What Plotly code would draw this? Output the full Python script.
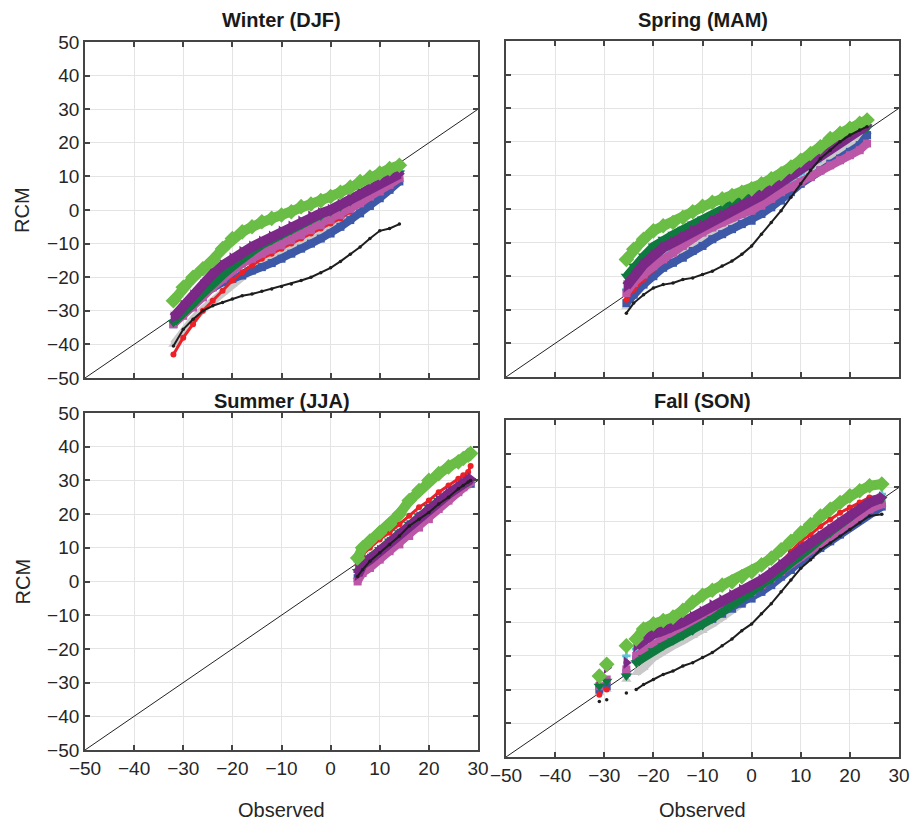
import plotly.graph_objects as go

# ------------------------------------------------------------------ data
# Winter (DJF)
DJF_X = [-32, -30, -28, -26, -24, -22, -20, -18, -16, -14, -12, -10, -8, -6, -4, -2, 0, 2, 4, 6, 8, 10, 12, 14]
DJF_GREEN = [-27, -23, -20, -17.5, -15, -11.5, -8.5, -6.5, -5, -3.5, -2.5, -1.5, -0.5, 1, 1.8, 2.8, 4, 5.3, 6.8, 8.5, 9.8, 11, 12.3, 13.3]
DJF_PURPLE = [-32, -28.5, -25.5, -22.5, -19, -16.5, -14.5, -12.5, -11, -9.5, -8, -6.5, -5, -3.5, -2, -1, 0, 1.5, 3, 4.8, 6.5, 8, 9.5, 10.8]
DJF_DKGREEN = [-33.5, -31, -28, -25, -22, -19.5, -17, -14.5, -12.5, -10.5, -9, -7.5, -6, -4.5, -3, -1.8, -0.5, 1, 2.5, 4.3, 6, 7.8, 9.5, 11]
DJF_CYAN = [-33, -30, -27, -24, -21, -18.5, -16, -14, -12, -10.3, -8.8, -7.2, -5.8, -4.3, -2.8, -1.6, -0.4, 1, 2.6, 4.5, 6.3, 8.2, 10, 11.5]
DJF_MAGENTA = [-34, -31.5, -29, -26, -23, -20.5, -18, -16, -14.5, -13, -11.8, -10.5, -9, -7.5, -6, -4.5, -3, -1.5, 0.3, 2, 4, 5.5, 7.5, 9.5]
DJF_BLUE = [-34, -30.5, -27.5, -25, -23, -21.5, -20.5, -19.5, -18, -17, -15.8, -14.5, -13, -11.5, -10, -8.5, -7, -5, -3, -1, 1.2, 3.5, 6, 8.5]
DJF_RED = [-43, -38, -34, -30, -27, -24, -21, -18.5, -16.5, -14.5, -13, -11.5, -10, -8.5, -7, -5.5, -4, -2.5, -0.5, 1.5, 3.5, 5.5, 7.5, 9.5]
DJF_GRAY = [-40, -36, -32.5, -29.5, -27, -24.5, -22, -19.5, -17.5, -15.5, -14, -12.5, -11, -9.5, -8, -6.5, -5, -3.5, -1.5, 0.5, 2.5, 5, 7.5, 9]
DJF_BLACK = [-40.5, -35.5, -32.5, -30, -28.5, -27.5, -26.5, -25.5, -25, -24.2, -23.5, -22.8, -22, -21, -20, -18.7, -17.2, -15.3, -13.2, -11, -8.5, -6.2, -5.5, -4.2]

# Spring (MAM)
MAM_X = [-25.5, -24, -22, -20, -18, -16, -14, -12, -10, -8, -6, -4, -2, 0, 2, 4, 6, 8, 10, 12, 14, 16, 18, 20, 22, 23.5]
MAM_GREEN = [-15, -12, -9, -6.5, -5, -4, -2.5, -0.8, 0.8, 2, 3, 4, 5, 6, 7.5, 9, 10.5, 12.5, 14.5, 16.5, 18.5, 21, 22.5, 24, 25.5, 26.5]
MAM_DKGREEN = [-20, -17, -14, -11, -9, -7.5, -6, -4.5, -3, -2, -0.5, 1, 2.5, 4, 5.5, 7, 9, 11, 12.5, 14.5, 17, 19, 21, 22.5, 23.5, 24]
MAM_PURPLE = [-23, -20, -16.5, -14, -11.5, -10, -8.5, -6.5, -5, -3.5, -2, -0.5, 1, 2.5, 4, 6, 8, 10, 11.5, 13.5, 15.5, 18, 20, 22, 24, 25]
MAM_CYAN = [-24, -21.5, -18.5, -16, -13.5, -11.5, -10, -8.5, -6.5, -5, -3.5, -2, -0.5, 1, 2.5, 4.5, 6.5, 8.5, 10.5, 12.5, 15, 17.5, 20, 22, 23.5, 24.5]
MAM_MAGENTA = [-25, -22, -19.5, -17, -15, -13, -11, -8.5, -7, -5.5, -4, -2.5, -1.5, -0.5, 1, 3, 5, 6.5, 8, 9.5, 11.5, 13, 14.5, 16, 17.5, 19.5]
MAM_RED = [-27, -24, -21, -18, -15, -12.5, -10.5, -8.5, -7, -5.5, -3.5, -2, -0.5, 1, 3, 5, 7, 9.5, 12, 14.5, 17.5, 20, 22, 23.5, 24.5, 25]
MAM_BLUE = [-28, -25.5, -22.5, -20, -17.5, -16, -14.5, -12.5, -11, -9, -7.5, -6, -4.5, -3.5, -1.5, 0.5, 2.5, 5, 7.5, 9.5, 11.5, 13.5, 15, 17, 19, 22]
MAM_GRAY = [-29, -25, -21.5, -18.5, -16, -14, -12.5, -11, -9.5, -8, -6.5, -5, -3.5, -2, 0, 2, 4, 6, 8.5, 11, 13, 15, 17, 19, 21, 23]
MAM_BLACK = [-31, -28, -25.5, -23.5, -22.5, -22, -21, -20.5, -19.5, -18.5, -17, -15.5, -13.5, -11, -7.5, -4, -0.5, 3.5, 7.5, 11.5, 15, 17.5, 20, 22, 23.5, 24.5]

# Summer (JJA)
JJA_X = [5.5, 6.5, 8, 10, 12, 14, 16, 18, 20, 22, 24, 26, 27, 28, 28.5]
JJA_GREEN = [7, 10, 12, 14.5, 17, 20, 24, 27, 30, 32, 34, 35.5, 36.5, 37.5, 38]
JJA_RED = [5, 8, 10, 12.5, 14.5, 17, 19.5, 22, 24, 26.5, 28.5, 30.5, 31.5, 32.5, 34.3]
JJA_PURPLE = [2, 5, 6.5, 9, 11.5, 14, 16.5, 19, 21.5, 24, 26, 28, 29, 30, 30.5]
JJA_DKGREEN = [3, 5.5, 7, 9.5, 12, 14.5, 17, 19.5, 22, 24, 26, 28, 29, 29.5, 30]
JJA_CYAN = [6, 6.5, 7.5, 9.5, 12, 14.5, 17, 19.5, 21.5, 23.5, 25.5, 27.5, 28.5, 29.5, 30]
JJA_MAGENTA = [0, 2.5, 4, 6.5, 9, 11, 13.5, 16, 18.5, 21.5, 24, 26.5, 28, 29, 29.5]
JJA_BLUE = [1, 3, 5, 7.5, 10, 12.5, 15, 17.5, 20, 22.5, 25, 27, 28, 29, 29]
JJA_GRAY = [1.5, 3.5, 5, 7.5, 10, 12.5, 15, 17.5, 20, 22.5, 25, 27, 28, 28.5, 28.5]
JJA_BLACK = [1.5, 3.5, 6, 8.5, 11, 13.5, 16.5, 18.5, 20.5, 23, 25, 27.5, 28.5, 29.5, 30]

# Fall (SON)
SON_X = [-31, -29.5, -25.5, -23.5, -22, -20, -18, -16, -14, -12, -10, -8, -6, -4, -2, 0, 2, 4, 6, 8, 10, 12, 14, 16, 18, 20, 22, 24, 26.5]
SON_GREEN = [-26, -22.5, -17, -15, -12, -10.5, -9.5, -8.5, -6.5, -4, -2, -0.5, 1, 2, 3.5, 5, 7, 9, 11.5, 14, 16.5, 19, 21.5, 23.5, 25.5, 27.5, 29, 30.5, 31]
SON_PURPLE = [-26.5, -23.5, -22, -17, -15.5, -13.5, -12.5, -11.5, -10, -8.5, -7, -5, -3.5, -2, -0.5, 0.5, 2.5, 4.5, 7, 9.5, 11.5, 13.5, 15.5, 17.5, 19.5, 21.5, 23.5, 25.5, 27]
SON_RED = [-31.5, -30, -22, -19, -18, -16.5, -14.5, -13, -11, -9, -7.5, -6, -4.5, -3, -1.5, 0, 2, 4.5, 7.5, 11, 14, 16, 18.5, 20.5, 22.5, 24, 25.5, 27, 27.5]
SON_DKGREEN = [-29, -27.5, -26, -22, -20.5, -18.5, -17, -15.5, -14, -12.5, -11, -9, -7, -5, -3, -1.5, 0.5, 2.5, 5, 7.5, 9.5, 12, 14.5, 16.5, 19, 21, 23.5, 25.5, 26.5]
SON_CYAN = [-25.5, -22, -20, -18, -16.5, -14.5, -13, -12, -10.5, -9, -7.5, -5.5, -4, -2.5, -1, 0, 2, 4, 6.5, 9, 11, 13, 15, 17, 19, 21, 23, 25, 28]
SON_MAGENTA = [-29, -27, -24, -20, -18.5, -16.5, -15, -13.5, -12, -10.5, -9, -7.5, -6, -4.5, -2.5, -1, 1, 3, 5, 7.5, 9.5, 11.5, 13.5, 15.5, 17.5, 19.5, 21.5, 23.5, 25]
SON_BLUE = [-30, -29, -25, -21, -19.5, -17.5, -16, -14.5, -13, -11.5, -10, -9, -7.5, -6, -4.5, -3, -1, 1, 3.5, 5.5, 8, 10, 12, 14, 16, 18.5, 20.5, 22.5, 24.3]
SON_GRAY = [-31, -30, -27, -25, -23.5, -20.5, -18.5, -17, -15.5, -14, -12.5, -10.5, -8.5, -6.5, -4.5, -2.5, -0.5, 1.5, 4, 6.5, 9, 11.5, 14, 16, 18.5, 20.5, 22.5, 24.5, 25]
SON_BLACK = [-33.5, -33, -31, -30, -28.5, -27, -25.5, -24.5, -23, -22, -20.5, -19, -17, -15, -12.5, -10.5, -7.5, -4.5, -1, 2.5, 6, 8.5, 11.5, 13.5, 15.5, 17.5, 19.5, 21.5, 22]

SEASON_TITLES = ["Winter (DJF)", "Spring (MAM)", "Summer (JJA)", "Fall (SON)"]
X_TICKS = [-50, -40, -30, -20, -10, 0, 10, 20, 30]
Y_TICKS = [-50, -40, -30, -20, -10, 0, 10, 20, 30, 40, 50]
DIAG = [-50, 30]
X_LABEL = "Observed"
Y_LABEL = "RCM"

# ------------------------------------------------------------------ styles
W, H = 914, 825

STYLE = {
    "gray":    dict(color="#c9c9c9", symbol="triangle-up",    size=9,  lw=8),
    "blue":    dict(color="#3d58a7", symbol="square",         size=8,  lw=8),
    "red":     dict(color="#ec2027", symbol="circle",         size=6,  lw=3),
    "cyan":    dict(color="#5cc6d6", symbol="cross",          size=7,  lw=3),
    "magenta": dict(color="#bc56a6", symbol="square",         size=8,  lw=8),
    "dkgreen": dict(color="#0f7a3f", symbol="triangle-down",  size=10, lw=8),
    "purple":  dict(color="#7b2886", symbol="triangle-right", size=11, lw=10),
    "green":   dict(color="#6abd45", symbol="diamond",        size=12, lw=10),
    "black":   dict(color="#1e1e1e", symbol="circle",         size=3.5, lw=2),
}
ORDER = ["gray", "blue", "red", "cyan", "magenta", "dkgreen", "purple", "green", "black"]

seasons = [
    dict(x=DJF_X, start=0, series=dict(gray=DJF_GRAY, blue=DJF_BLUE, red=DJF_RED, magenta=DJF_MAGENTA,
         cyan=DJF_CYAN, dkgreen=DJF_DKGREEN, purple=DJF_PURPLE, green=DJF_GREEN, black=DJF_BLACK)),
    dict(x=MAM_X, start=0, series=dict(gray=MAM_GRAY, blue=MAM_BLUE, red=MAM_RED, magenta=MAM_MAGENTA,
         cyan=MAM_CYAN, dkgreen=MAM_DKGREEN, purple=MAM_PURPLE, green=MAM_GREEN, black=MAM_BLACK)),
    dict(x=JJA_X, start=0, series=dict(gray=JJA_GRAY, blue=JJA_BLUE, red=JJA_RED, magenta=JJA_MAGENTA,
         cyan=JJA_CYAN, dkgreen=JJA_DKGREEN, purple=JJA_PURPLE, green=JJA_GREEN, black=JJA_BLACK)),
    dict(x=SON_X, start=3, series=dict(gray=SON_GRAY, blue=SON_BLUE, red=SON_RED, magenta=SON_MAGENTA,
         cyan=SON_CYAN, dkgreen=SON_DKGREEN, purple=SON_PURPLE, green=SON_GREEN, black=SON_BLACK)),
]

# pixel boxes of the four axes: (left, right, top, bottom)
BOXES = [(85, 478, 42, 378), (506, 899, 41, 377), (85, 478, 413, 750), (506, 899, 420, 757)]

def fx(p):
    return p / W

def fy(p):
    return 1 - p / H

FONT = "Liberation Sans, Arial, Helvetica, sans-serif"
AXC = "#454545"

fig = go.Figure()
layout = dict(
    template="none",
    width=W, height=H, margin=dict(l=0, r=0, t=0, b=0, pad=0, autoexpand=False),
    plot_bgcolor="white", paper_bgcolor="white", showlegend=False,
    font=dict(family=FONT, color="#262626"),
)
annotations = []

def minus(v):
    return str(v).replace("-", "\u2212")

for i, (season, box) in enumerate(zip(seasons, BOXES)):
    k = "" if i == 0 else str(i + 1)
    xa, ya = "x" + k, "y" + k
    l, r, t, b = box
    bottom_row = i >= 2
    left_col = i % 2 == 0
    common = dict(
        automargin=False,
        showgrid=True, gridcolor="#e4e4e4", gridwidth=1, zeroline=False,
        showline=True, linecolor=AXC, linewidth=1.8, mirror="allticks",
        ticks="inside", ticklen=5, tickwidth=1.8, tickcolor=AXC,
        tickfont=dict(family=FONT, size=19, color="#262626"),
    )
    layout["xaxis" + k] = dict(
        common, domain=[fx(l), fx(r)], range=[DIAG[0], DIAG[1]], anchor=ya,
        tickvals=X_TICKS, ticktext=[minus(v) for v in X_TICKS],
        showticklabels=bottom_row, ticklabeloverflow="allow",
    )
    layout["yaxis" + k] = dict(
        common, domain=[fy(b), fy(t)], range=[Y_TICKS[0], Y_TICKS[-1]], anchor=xa,
        tickvals=Y_TICKS, ticktext=[minus(v) for v in Y_TICKS],
        showticklabels=left_col,
    )
    # 1:1 reference line
    fig.add_trace(go.Scatter(x=DIAG, y=DIAG, mode="lines", xaxis=xa, yaxis=ya,
                             line=dict(color="#222222", width=1), hoverinfo="skip"))
    xs = season["x"]
    s0 = season["start"]
    for name in ORDER:
        st = STYLE[name]
        ys = season["series"][name]
        # continuous band
        fig.add_trace(go.Scatter(x=xs[s0:], y=ys[s0:], mode="lines", xaxis=xa, yaxis=ya,
                                 line=dict(color=st["color"], width=st["lw"]), hoverinfo="skip"))
        # quantile markers
        fig.add_trace(go.Scatter(x=xs, y=ys, mode="markers", xaxis=xa, yaxis=ya,
                                 marker=dict(color=st["color"], symbol=st["symbol"], size=st["size"],
                                             line=dict(width=0)), name=name))
    # panel title
    ty = 20 if i < 2 else 401
    annotations.append(dict(text="<b>" + SEASON_TITLES[i] + "</b>", xref="paper", yref="paper",
                            x=fx((l + r) / 2), y=fy(ty), xanchor="center", yanchor="middle",
                            showarrow=False, font=dict(family=FONT, size=20, color="#1a1a1a")))
    if left_col:
        annotations.append(dict(text=Y_LABEL, xref="paper", yref="paper", x=fx(22),
                                y=fy((t + b) / 2), textangle=-90, xanchor="center", yanchor="middle",
                                showarrow=False, font=dict(family=FONT, size=20, color="#262626")))
    if bottom_row:
        annotations.append(dict(text=X_LABEL, xref="paper", yref="paper", x=fx((l + r) / 2),
                                y=fy(810), xanchor="center", yanchor="middle",
                                showarrow=False, font=dict(family=FONT, size=20, color="#262626")))

layout["annotations"] = annotations
fig.update_layout(**layout)
fig.write_html("out.html", config={"displayModeBar": False},
               post_script="document.body.style.margin='0px';document.body.style.overflow='hidden';")
